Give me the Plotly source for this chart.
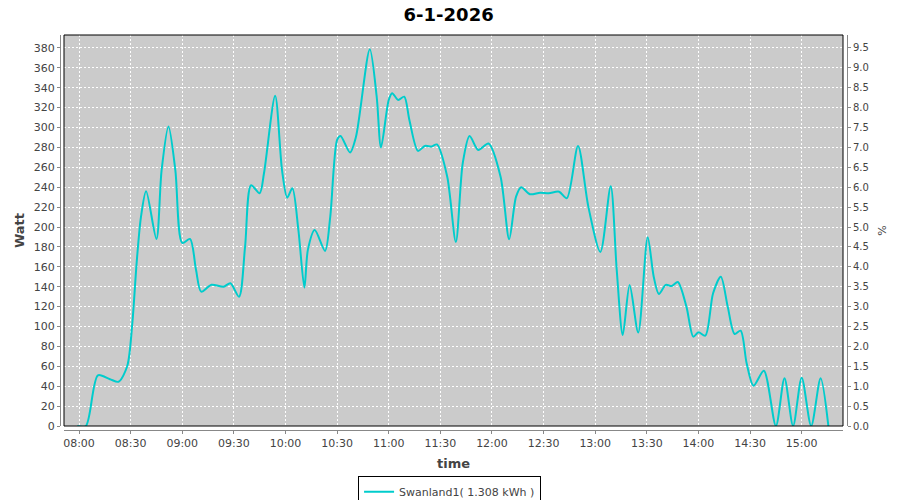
import plotly.graph_objects as go

day = "2026-01-06"
times = ["07:59","08:04","08:11","08:18","08:23","08:28","08:31","08:33:30","08:36","08:39",
         "08:45","08:48","08:52","08:56","09:00","09:04:30","09:08","09:11","09:17","09:24",
         "09:28","09:33","09:36:30","09:40","09:45","09:47:30","09:54","09:58","10:01","10:04",
         "10:07:30","10:11","10:13","10:17","10:23","10:26","10:30","10:32","10:37:30","10:41",
         "10:49","10:53","10:55:30","11:00","11:02","11:05:30","11:09","11:12","11:17","11:21",
         "11:25","11:28","11:34","11:39","11:43","11:47","11:52","11:58","12:05","12:10",
         "12:14","12:17","12:22","12:28","12:33","12:39","12:43:30","12:50","12:56","13:03",
         "13:09","13:12:30","13:16","13:20","13:25","13:30:30","13:34","13:37","13:41","13:44:30",
         "13:48","13:53","13:57","14:00","14:04","14:08:30","14:13","14:17","14:21","14:24:30",
         "14:28","14:32","14:38","14:45","14:50","14:55","15:00","15:05:30","15:11","15:15:30"]
watt = [0, 0, 51, 47, 44.5, 60, 103.5, 164, 210, 236,
        188, 257, 301, 257, 184, 188, 157, 135, 142, 140,
        143.5, 130, 180, 242, 234, 254, 332, 257, 229.5, 239,
        197, 139, 177, 197, 176, 210, 287.5, 291.5, 275, 291,
        378.7, 331, 280, 327.7, 334.5, 327.7, 331, 307.6, 276.5, 281.5,
        281, 283, 250.6, 185, 264, 291.5, 277.5, 284, 250.6, 187.7,
        230.5, 240, 233, 234.5, 234, 235.5, 229, 281.5, 220.5, 175,
        241, 157, 91.5, 141.8, 94, 189.7, 150, 132.7, 141.8, 140.7,
        144.8, 120, 89.8, 94.2, 90.8, 133.4, 150, 120, 92.5, 95.8,
        63, 40.5, 55.6, 0, 48, 0, 48.6, 0, 48, 0]

series_name = "Swanland1( 1.308 kWh )"
title_text = "6-1-2026"
watt_range = [0, 393]
pct_range = [0, 393 / 40]
x_range = [f"{day} 07:51:17", f"{day} 15:24:00"]

xs = [f"{day} {t}" for t in times]

fig = go.Figure()
fig.add_trace(go.Scatter(
    x=xs, y=watt, mode="lines", name=series_name,
    line=dict(color="#00cccc", width=2, shape="spline", smoothing=0.8),
))
fig.add_trace(go.Scatter(x=[], y=[], yaxis="y2", showlegend=False, hoverinfo="skip"))

font_family = "DejaVu Sans"
tick_font = dict(family=font_family, size=11, color="#444444")
grid = dict(showgrid=True, gridcolor="white", gridwidth=1, griddash="2px,2px")

# page has an 8px body margin, so the figure is 892x492
fig.update_layout(
    width=892, height=492,
    margin=dict(l=52, r=53, t=27, b=70, autoexpand=False),
    paper_bgcolor="white",
    plot_bgcolor="#cbcbcb",
    title=dict(text=title_text, x=0.494, xref="container", xanchor="center",
               y=1, yanchor="top", pad=dict(t=0, b=0),
               font=dict(family=font_family, size=18, color="black", weight="bold")),
    xaxis=dict(
        domain=[4 / 787, 783 / 787], anchor="free", position=0, automargin=False,
        type="date", range=x_range, tickformat="%H:%M", dtick=1800000,
        tick0=f"{day} 08:00", ticks="outside", ticklen=3, tickcolor="#888888",
        showline=True, linecolor="#888888", linewidth=1,
        tickfont=tick_font, zeroline=False,
        title=dict(text="time", font=dict(family=font_family, size=13, color="#444444", weight="bold"),
                   standoff=9),
        **grid,
    ),
    yaxis=dict(
        domain=[4 / 395, 1], anchor="free", position=0, automargin=False,
        range=watt_range, dtick=20, tick0=0, ticks="outside", ticklen=3, tickcolor="#888888",
        showline=True, linecolor="#888888", linewidth=1,
        tickfont=tick_font, zeroline=False,
        title=dict(text="Watt", font=dict(family=font_family, size=13, color="#444444", weight="bold"),
                   standoff=5),
        **grid,
    ),
    yaxis2=dict(
        domain=[4 / 395, 1], anchor="free", position=1, overlaying="y", side="right", automargin=False,
        range=pct_range, dtick=0.5, tick0=0, tickformat=".1f", ticks="outside", ticklen=3,
        tickcolor="#888888", showline=True, linecolor="#888888", linewidth=1,
        tickfont=dict(family=font_family, size=10, color="#444444"), showgrid=False, zeroline=False,
        title=dict(text="%", font=dict(family=font_family, size=11, color="#444444"), standoff=10),
    ),
    legend=dict(
        orientation="h", x=0.495, xanchor="center", y=-0.117, yanchor="top",
        bordercolor="black", borderwidth=1, bgcolor="white",
        font=dict(family=font_family, size=11, color="#444444"),
        itemwidth=30,
    ),
    showlegend=True,
)
fig.add_shape(type="rect", xref="x domain", yref="y domain", x0=0, x1=1, y0=0, y1=1,
              line=dict(color="black", width=1), fillcolor="rgba(0,0,0,0)", layer="above")

fig.write_html("out.html")
